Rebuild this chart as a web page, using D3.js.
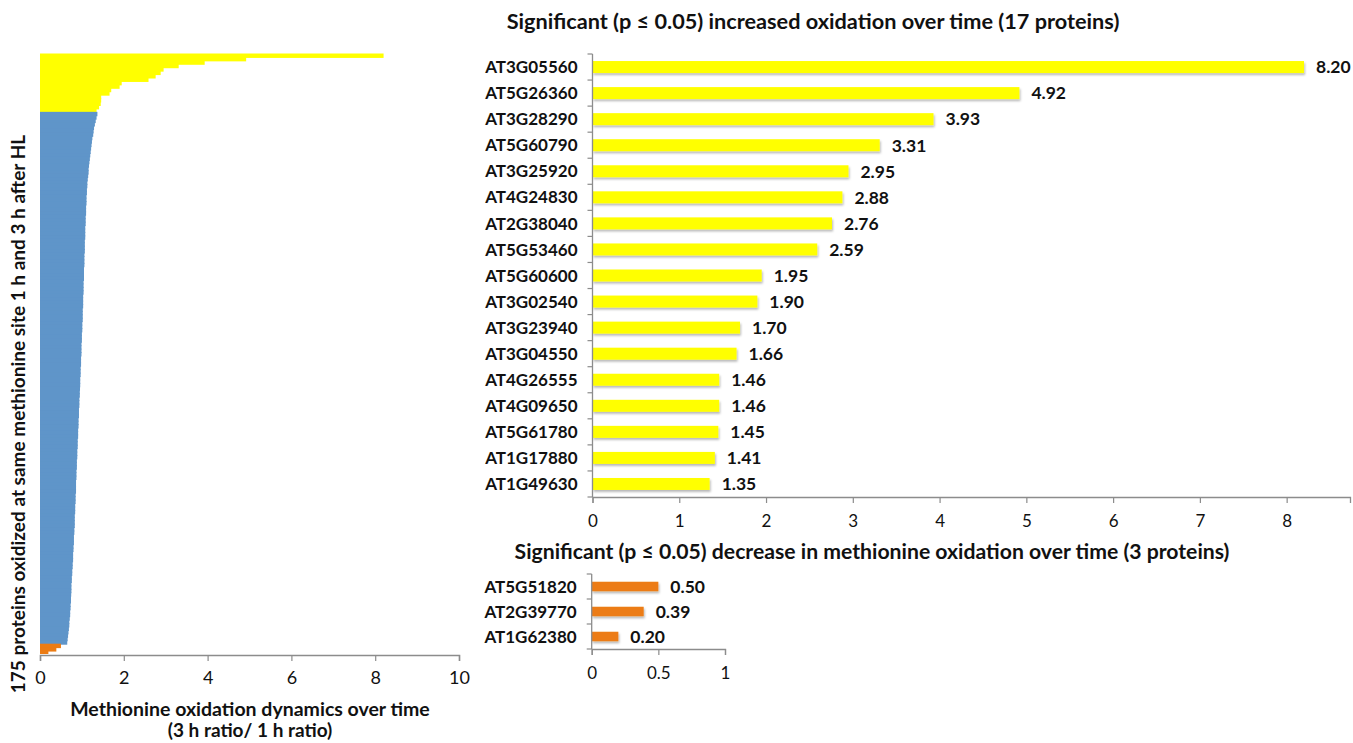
<!DOCTYPE html>
<html>
<head>
<meta charset="utf-8">
<script src="https://cdn.jsdelivr.net/npm/d3@7/dist/d3.min.js"></script>
<style>
  html, body { margin: 0; padding: 0; background: #fff; }
  svg { display: block; font-family: Lato, "Open Sans", sans-serif; }
</style>
</head>
<body>
<svg id="chart" width="1353" height="743"></svg>
<script>
// Proteins with significantly increased methionine oxidation (3 h / 1 h ratio)
const incGenes = ["AT3G05560","AT5G26360","AT3G28290","AT5G60790","AT3G25920","AT4G24830",
  "AT2G38040","AT5G53460","AT5G60600","AT3G02540","AT3G23940","AT3G04550","AT4G26555",
  "AT4G09650","AT5G61780","AT1G17880","AT1G49630"];
const incValues = [8.20,4.92,3.93,3.31,2.95,2.88,2.76,2.59,1.95,1.90,1.70,1.66,1.46,1.46,1.45,1.41,1.35];

// Proteins with significantly decreased methionine oxidation
const decGenes = ["AT5G51820","AT2G39770","AT1G62380"];
const decValues = [0.50,0.39,0.20];

// Remaining proteins (not significant), sorted from highest to lowest ratio
const otherValues = [
  1.37,1.35,1.33,1.31,1.29,1.28,1.27,1.25,1.24,1.23,
  1.22,1.21,1.20,1.19,1.18,1.17,1.16,1.16,1.15,1.14,
  1.13,1.13,1.12,1.12,1.11,1.11,1.11,1.10,1.10,1.10,
  1.09,1.09,1.09,1.08,1.08,1.08,1.08,1.07,1.07,1.07,
  1.07,1.06,1.06,1.06,1.06,1.05,1.05,1.05,1.05,1.04,
  1.04,1.04,1.04,1.03,1.03,1.03,1.03,1.02,1.02,1.02,
  1.02,1.01,1.01,1.01,1.00,1.00,1.00,0.99,0.99,0.99,
  0.99,0.98,0.98,0.98,0.97,0.97,0.97,0.96,0.96,0.96,
  0.955,0.95,0.95,0.94,0.94,0.94,0.93,0.93,0.93,0.92,
  0.92,0.92,0.91,0.91,0.91,0.90,0.90,0.90,0.89,0.89,
  0.89,0.88,0.88,0.88,0.87,0.87,0.87,0.86,0.86,0.86,
  0.86,0.85,0.85,0.85,0.84,0.84,0.84,0.83,0.83,0.83,
  0.83,0.82,0.82,0.81,0.81,0.81,0.80,0.80,0.79,0.79,
  0.79,0.78,0.78,0.77,0.77,0.76,0.76,0.75,0.75,0.75,
  0.745,0.74,0.74,0.73,0.73,0.72,0.72,0.71,0.70,0.70,
  0.69,0.68,0.67,0.66,0.65
];

const leftTicks = [0,2,4,6,8,10];
const incTicks = [0,1,2,3,4,5,6,7,8];
const decTicks = [0,0.5,1];

const titleInc = "Significant (p \u2264 0.05) increased oxidation over time (17 proteins)";
const titleDec = "Significant (p \u2264 0.05) decrease in methionine oxidation over time (3 proteins)";
const leftXTitle = ["Methionine oxidation dynamics over time", "(3 h ratio/ 1 h ratio)"];
const leftYTitle = "175 proteins oxidized at same methionine site 1 h and 3 h after HL";

const YELLOW = "#FFFF00", BLUE = "#5F95C9", ORANGE = "#EC7C14";
const AXIS = "#8c8c8c", TEXT = "#111";

const svg = d3.select("#chart");

// drop shadow used by the bars of the two detail charts
const defs = svg.append("defs");
const f = defs.append("filter").attr("id", "shadow")
  .attr("x", "-5%").attr("y", "-30%").attr("width", "115%").attr("height", "190%");
f.append("feDropShadow").attr("dx", 1).attr("dy", 2).attr("stdDeviation", 1)
  .attr("flood-color", "#000").attr("flood-opacity", 0.28);

// ---------- Left: all 175 proteins ----------
const all = [
  ...incValues.map(v => ({ v, c: YELLOW })),
  ...otherValues.map(v => ({ v, c: BLUE })),
  ...decValues.map(v => ({ v, c: ORANGE }))
].map((d, i) => ({ ...d, i }));

const xL = d3.scaleLinear().domain([0, 10]).range([40, 459]);
const yL = d3.scaleBand().domain(all.map(d => d.i)).range([53.5, 654]).padding(0);

svg.append("g").selectAll("rect").data(all).join("rect")
  .attr("x", xL(0))
  .attr("y", d => yL(d.i))
  .attr("width", d => xL(d.v) - xL(0))
  .attr("height", (d, i) => yL.bandwidth() + (i < all.length - 1 ? 1 : 0))
  .attr("fill", d => d.c);

const gxL = svg.append("g").attr("transform", `translate(0,${yL.range()[1] + 1})`)
  .call(d3.axisBottom(xL).tickValues(leftTicks).tickSize(6).tickPadding(10));
gxL.select(".domain").attr("stroke", AXIS).attr("stroke-width", 1.5);
gxL.selectAll(".tick line").attr("stroke", AXIS).attr("stroke-width", 1.2);
gxL.selectAll(".tick text").attr("font-size", 18).attr("fill", TEXT)
  .attr("font-family", "Lato, sans-serif");

svg.append("text").attr("x", 250).attr("y", 716).attr("text-anchor", "middle")
  .attr("font-size", 19.5).attr("font-weight", "bold").attr("fill", TEXT).text(leftXTitle[0]);
svg.append("text").attr("x", 250).attr("y", 737).attr("text-anchor", "middle")
  .attr("font-size", 19).attr("font-weight", "bold").attr("fill", TEXT).text(leftXTitle[1]);
svg.append("text")
  .attr("transform", "translate(25,414) rotate(-90)")
  .attr("text-anchor", "middle").attr("font-size", 19).attr("font-weight", "bold")
  .attr("fill", TEXT).text(leftYTitle);

// ---------- helper for the two detail bar charts ----------
function detailChart({ genes, values, x, yRange, padding, ticks, color, title, titleY, labelFmt }) {
  const y = d3.scaleBand().domain(genes).range(yRange)
    .paddingInner(padding).paddingOuter(padding / 2);
  const g = svg.append("g");

  // bars
  g.append("g").selectAll("rect").data(genes).join("rect")
    .attr("x", x(0))
    .attr("y", d => y(d))
    .attr("width", (d, i) => x(values[i]) - x(0))
    .attr("height", y.bandwidth())
    .attr("fill", color)
    .attr("filter", "url(#shadow)");

  // value labels
  g.append("g").selectAll("text").data(genes).join("text")
    .attr("x", (d, i) => x(values[i]) + 12)
    .attr("y", d => y(d) + y.bandwidth() / 2)
    .attr("dy", "0.36em")
    .attr("font-size", 17.5).attr("font-weight", "bold").attr("fill", TEXT)
    .text((d, i) => labelFmt(values[i]));

  // category axis with ticks between categories
  const step = y.step();
  const y0 = yRange[0];
  const bounds = d3.range(genes.length + 1).map(k => y0 + k * step);
  g.append("line").attr("x1", x(0)).attr("x2", x(0))
    .attr("y1", yRange[0]).attr("y2", yRange[1])
    .attr("stroke", AXIS).attr("stroke-width", 1.3);
  g.append("g").selectAll("line").data(bounds).join("line")
    .attr("x1", x(0) - 5).attr("x2", x(0))
    .attr("y1", d => d).attr("y2", d => d)
    .attr("stroke", AXIS).attr("stroke-width", 1.2);
  g.append("g").selectAll("text").data(genes).join("text")
    .attr("x", x(0) - 15)
    .attr("y", d => y(d) + y.bandwidth() / 2)
    .attr("dy", "0.36em")
    .attr("text-anchor", "end")
    .attr("font-size", 17).attr("font-weight", "bold").attr("fill", TEXT)
    .text(d => d);

  // value axis
  const gx = g.append("g").attr("transform", `translate(0,${yRange[1]})`)
    .call(d3.axisBottom(x).tickValues(ticks).tickSize(6).tickPadding(12)
      .tickFormat(d3.format("~g")));
  gx.select(".domain").attr("stroke", AXIS).attr("stroke-width", 1.3);
  gx.selectAll(".tick line").attr("stroke", AXIS).attr("stroke-width", 1.2);
  gx.selectAll(".tick text").attr("font-size", 17).attr("fill", TEXT)
    .attr("font-family", "Lato, sans-serif");

  svg.append("text").attr("x", title.x).attr("y", titleY).attr("text-anchor", "middle")
    .attr("font-size", title.size).attr("font-weight", "bold").attr("fill", TEXT).text(title.text);
}

// ---------- Right top: significantly increased ----------
detailChart({
  genes: incGenes, values: incValues,
  x: d3.scaleLinear().domain([0, 8.73]).range([592.5, 1350]),
  yRange: [54, 497], padding: 0.54, ticks: incTicks, color: YELLOW,
  title: { text: titleInc, x: 813, size: 21.7 }, titleY: 29,
  labelFmt: d3.format(".2f")
});

// ---------- Right bottom: significantly decreased ----------
detailChart({
  genes: decGenes, values: decValues,
  x: d3.scaleLinear().domain([0, 1]).range([591.7, 725]),
  yRange: [574, 649], padding: 0.62, ticks: decTicks, color: ORANGE,
  title: { text: titleDec, x: 872, size: 21.2 }, titleY: 559,
  labelFmt: d3.format(".2f")
});
</script>
</body>
</html>
